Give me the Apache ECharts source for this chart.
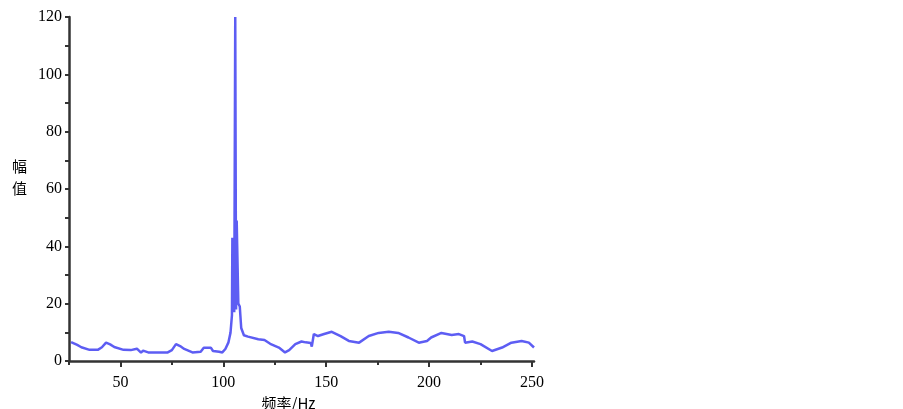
<!DOCTYPE html>
<html>
<head>
<meta charset="utf-8">
<script src="https://cdn.jsdelivr.net/npm/echarts@6/dist/echarts.min.js"></script>
<style>
  html, body { margin: 0; padding: 0; background: #fff; }
  #chart { width: 903px; height: 409px; }
</style>
</head>
<body>
<div id="chart"></div>
<script>
// spectrum: frequency (Hz) and amplitude
var freq = [26, 29, 31, 35, 39, 41, 43, 45, 47, 51.5, 55, 58, 60, 61, 63.5, 73, 75, 77, 79, 81,
  85, 89, 90.5, 94, 95, 98, 99.5, 101, 102.5, 103.5, 104.2, 104.4, 105.0, 105.3, 105.8, 106.2,
  106.5, 107.0, 107.3, 108, 108.7, 110, 112, 117, 120, 122.8, 127, 130, 132, 135, 138, 140,
  142.5, 143, 144, 146, 149, 152.7, 157, 161, 166, 170.7, 175.5, 180.4, 185, 190, 195, 199,
  201, 206, 211, 214.5, 217, 217.5, 221, 225, 230.6, 235.5, 240, 245, 248.5, 251];
var amp = [6.6, 5.6, 4.8, 3.9, 3.9, 4.8, 6.4, 5.8, 4.9, 3.9, 3.8, 4.3, 2.9, 3.6, 3.0, 3.0, 3.8, 5.9, 5.2, 4.2,
  3.0, 3.2, 4.6, 4.6, 3.5, 3.2, 3.0, 4.2, 6.5, 9.9, 16, 43, 43, 17, 120, 18,
  49, 49, 20, 19, 11.5, 9, 8.5, 7.6, 7.3, 6, 4.7, 3.0, 3.8, 5.9, 6.8, 6.5,
  6.3, 5.0, 9.4, 8.7, 9.4, 10.2, 8.7, 7.0, 6.4, 8.7, 9.8, 10.2, 9.8, 8.2, 6.4, 7,
  8.2, 9.8, 9.1, 9.4, 8.7, 6.4, 6.8, 5.9, 3.5, 4.7, 6.4, 7, 6.4, 4.7];
var xMajor = [50, 100, 150, 200, 250];
var xMinor = [25, 75, 125, 175, 225];

var points = freq.map(function (f, i) { return [f, amp[i]]; });

var chart = echarts.init(document.getElementById('chart'));
var labelFont = { fontFamily: 'Liberation Serif', fontSize: 16, color: '#000' };
var axisLine = { show: true, lineStyle: { color: '#333', width: 2.5 } };

chart.setOption({
  animation: false,
  grid: { left: 69, right: 369, top: 17, bottom: 48, outerBoundsMode: 'none' },
  // y axis title sits above the middle of the axis in the original
  graphic: [{
    type: 'text', left: 12, top: 155,
    style: { text: '幅\n值', fontFamily: 'Noto Sans CJK SC', fontSize: 15, lineHeight: 22, fill: '#000' }
  }],
  xAxis: [{
    type: 'value', min: 25, max: 251,
    axisLine: axisLine,
    splitLine: { show: false },
    axisTick: { show: true, customValues: xMajor, length: 6, lineStyle: { color: '#333', width: 2 } },
    axisLabel: Object.assign({ customValues: xMajor, margin: 14 }, labelFont),
    name: '频率/Hz', nameLocation: 'middle', nameGap: 29,
    nameTextStyle: { fontFamily: 'Noto Sans CJK SC', fontSize: 15, color: '#000', padding: [0, 26, 0, 0] }
  }, {
    type: 'value', min: 25, max: 251, position: 'bottom',
    axisLine: { show: false },
    splitLine: { show: false },
    axisTick: { show: true, customValues: xMinor, length: 4, lineStyle: { color: '#333', width: 2 } },
    axisLabel: { show: false }
  }],
  yAxis: {
    type: 'value', min: 0, max: 120, interval: 10,
    axisLine: axisLine,
    splitLine: { show: false },
    axisTick: { show: true, length: 4, lineStyle: { color: '#333', width: 2 } },
    axisLabel: Object.assign({
      margin: 7,
      formatter: function (v) { return v % 20 === 0 ? String(v) : ''; }
    }, labelFont)
  },
  series: [{
    type: 'line',
    data: points,
    showSymbol: false,
    lineStyle: { color: '#3434f0', width: 2.5, opacity: 0.8 },
    itemStyle: { color: '#3434f0' }
  }]
});
</script>
</body>
</html>
